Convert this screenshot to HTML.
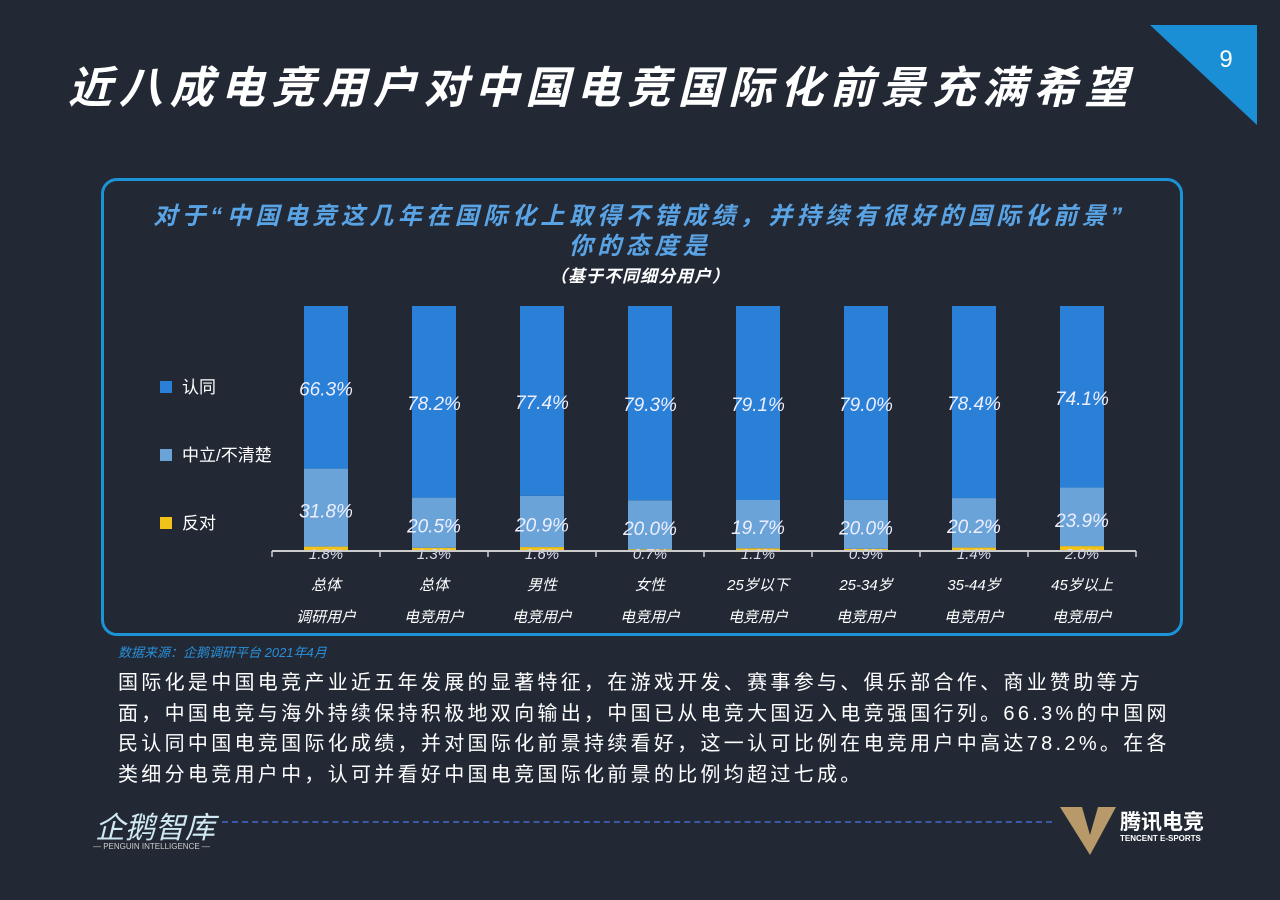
<!DOCTYPE html>
<html><head><meta charset="utf-8">
<style>
body{margin:0;width:1280px;height:900px;background:#222935;overflow:hidden;position:relative;font-family:"Liberation Sans","Noto Sans CJK SC",sans-serif;}
.abs{position:absolute;}
#title{left:68px;top:52px;font-size:44px;font-weight:bold;font-style:italic;color:#fff;letter-spacing:6.8px;white-space:nowrap;}
#panel{left:101px;top:178px;width:1082px;height:458px;border:3px solid #1b93d6;border-radius:16px;box-sizing:border-box;}
.q{color:#5aa4e6;font-weight:bold;font-style:italic;font-size:24px;letter-spacing:4.5px;text-align:center;width:1280px;left:0;white-space:nowrap;}
.para{left:118px;top:668px;color:#fff;font-size:20px;line-height:30.5px;width:1054px;letter-spacing:3.3px;}
</style></head><body>
<div class="abs" id="title">近八成电竞用户对中国电竞国际化前景充满希望</div>
<svg class="abs" style="left:0;top:0" width="1280" height="900">
<polygon points="1150,25 1257,25 1257,125" fill="#1a8fd6"/>
<text x="1226" y="67" fill="#fff" font-size="24" text-anchor="middle" font-family="Liberation Sans">9</text>
</svg>
<div class="abs" id="panel"></div>
<div class="abs q" style="top:196px">对于“中国电竞这几年在国际化上取得不错成绩，并持续有很好的国际化前景”</div>
<div class="abs q" style="top:226px">你的态度是</div>
<div class="abs" style="left:0;width:1280px;text-align:center;top:262px;color:#fff;font-weight:bold;font-style:italic;font-size:17px;letter-spacing:1px">（基于不同细分用户）</div>
<svg id="chart" class="abs" style="left:0;top:0" width="1280" height="900"></svg>
<div class="abs" style="left:118px;top:642px;color:#2a8fd8;font-size:13px;font-style:italic">数据来源：企鹅调研平台 2021年4月</div>
<div class="abs para">国际化是中国电竞产业近五年发展的显著特征，在游戏开发、赛事参与、俱乐部合作、商业赞助等方面，中国电竞与海外持续保持积极地双向输出，中国已从电竞大国迈入电竞强国行列。66.3%的中国网民认同中国电竞国际化成绩，并对国际化前景持续看好，这一认可比例在电竞用户中高达78.2%。在各类细分电竞用户中，认可并看好中国电竞国际化前景的比例均超过七成。</div>
<div class="abs" style="left:95px;top:803px;color:#cfe8f2;font-size:30px;font-style:italic">企鹅智库</div>
<div class="abs" style="left:93px;top:842px;color:#ccc;font-size:8px">— PENGUIN INTELLIGENCE —</div>
<div class="abs" style="left:222px;top:821px;width:830px;border-top:2px dashed #3b59a8"></div>
<svg class="abs" style="left:1060px;top:805px" width="60" height="52"><polygon points="0,2 22,2 30,30 38,2 56,2 30,50" fill="#b89a6a"/></svg>
<div class="abs" style="left:1120px;top:806px;color:#fff;font-size:21px;font-weight:bold">腾讯电竞</div>
<div class="abs" style="left:1120px;top:834px;color:#fff;font-size:8px;font-weight:bold">TENCENT E-SPORTS</div>
<script>
const cats1=["总体","总体","男性","女性","25岁以下","25-34岁","35-44岁","45岁以上"];
const cats2=["调研用户","电竞用户","电竞用户","电竞用户","电竞用户","电竞用户","电竞用户","电竞用户"];
const agree=[66.3,78.2,77.4,79.3,79.1,79.0,78.4,74.1];
const neutral=[31.8,20.5,20.9,20.0,19.7,20.0,20.2,23.9];
const oppose=[1.8,1.3,1.6,0.7,1.1,0.9,1.4,2.0];
const seriesNames=["认同","中立/不清楚","反对"];
const colors=["#2a7fd6","#6aa3d8","#f2c218"];
const svgEl=document.getElementById('chart');const NS="http://www.w3.org/2000/svg";
const x0=272,step=108,bw=44,base=551,plotTop=306;
const xs=i=>x0+step*i+step/2;
const ys=v=>(base-plotTop)*v/100;
function mk(t,a){const e=document.createElementNS(NS,t);for(const k in a)e.setAttribute(k,a[k]);svgEl.appendChild(e);return e;}
function txt(x,y,s,size,fill){const t=mk('text',{x:x,y:y,'text-anchor':'middle','font-size':size,fill:fill,'font-style':'italic','font-family':'Liberation Sans, Noto Sans CJK SC, sans-serif'});t.textContent=s;return t;}
cats1.forEach((c,i)=>{
  const cx=xs(i);const tot=agree[i]+neutral[i]+oppose[i];
  const segs=[oppose[i],neutral[i],agree[i]];const cols=[colors[2],colors[1],colors[0]];
  let y=base;const pos=[];
  segs.forEach((v,k)=>{const h=ys(v*100/tot);y-=h;const r=mk('rect',{x:cx-bw/2,y:y,width:bw,height:h,fill:cols[k]});
    
    pos.push([y,h]);});
  let t=txt(cx,pos[2][0]+pos[2][1]/2+8,agree[i].toFixed(1)+'%',19,'#eef');
  
  t=txt(cx,pos[1][0]+pos[1][1]/2+10,neutral[i].toFixed(1)+'%',19,'#eef');
  
  t=txt(cx,base+8,oppose[i].toFixed(1)+'%',15,'#dde');
  
  t=txt(cx,590,c,15,'#fff');
  t=txt(cx,622,cats2[i],15,'#fff');
});
const ax=mk('line',{x1:x0,x2:x0+step*8,y1:base,y2:base,stroke:'#ccc','stroke-width':2});

for(let i=0;i<=8;i++){const tk=mk('line',{x1:x0+step*i,x2:x0+step*i,y1:base,y2:base+6,stroke:'#ccc','stroke-width':1.5});
  }
seriesNames.forEach((n,k)=>{const y=387+68*k;
  const r=mk('rect',{x:160,y:y-6,width:12,height:12,fill:colors[k]});
  
  const t=mk('text',{x:182,y:y+6,'font-size':17,fill:'#fff','font-family':'Liberation Sans, Noto Sans CJK SC, sans-serif'});t.textContent=n;
  });
</script>
</body></html>
